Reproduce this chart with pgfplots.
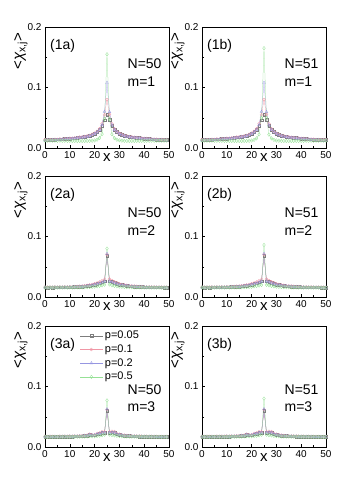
\documentclass[border=0pt]{standalone}
\usepackage{fontspec}
\setmainfont{Liberation Sans}
\usepackage{pgfplots}
\usepackage{pgfplotstable}
\pgfplotsset{compat=1.18}

\definecolor{c1}{RGB}{125,125,125}
\definecolor{c2}{RGB}{240,150,165}
\definecolor{c3}{RGB}{150,150,225}
\definecolor{c4}{RGB}{150,225,150}

\pgfplotstableread{
x k r b g gb
0 0.0134 0.0138 0.0128 0.0124 0.0124
1 0.0136 0.0135 0.0130 0.0122 0.0123
2 0.0135 0.0140 0.0129 0.0123 0.0122
3 0.0139 0.0138 0.0132 0.0121 0.0121
4 0.0140 0.0143 0.0133 0.0122 0.0122
5 0.0143 0.0141 0.0136 0.0120 0.0121
6 0.0145 0.0148 0.0139 0.0121 0.0120
7 0.0149 0.0147 0.0142 0.0119 0.0120
8 0.0151 0.0154 0.0145 0.0120 0.0119
9 0.0156 0.0153 0.0149 0.0118 0.0119
10 0.0158 0.0161 0.0152 0.0119 0.0118
11 0.0162 0.0160 0.0156 0.0117 0.0118
12 0.0166 0.0169 0.0160 0.0118 0.0117
13 0.0171 0.0168 0.0165 0.0116 0.0117
14 0.0176 0.0179 0.0170 0.0117 0.0116
15 0.0181 0.0183 0.0175 0.0116 0.0116
16 0.0188 0.0190 0.0181 0.0116 0.0115
17 0.0196 0.0199 0.0189 0.0117 0.0116
18 0.0206 0.0209 0.0198 0.0118 0.0117
19 0.0222 0.0226 0.0213 0.0120 0.0119
20 0.0240 0.0245 0.0232 0.0125 0.0123
21 0.0268 0.0276 0.0260 0.0138 0.0135
22 0.0305 0.0318 0.0298 0.0165 0.0160
23 0.0370 0.0400 0.0380 0.0230 0.0225
24 0.0460 0.0550 0.0600 0.0480 0.0500
25 0.0550 0.0800 0.1080 0.1550 0.1650
26 0.0465 0.0555 0.0595 0.0475 0.0495
27 0.0368 0.0398 0.0378 0.0228 0.0222
28 0.0303 0.0316 0.0300 0.0163 0.0160
29 0.0270 0.0274 0.0262 0.0137 0.0135
30 0.0241 0.0244 0.0234 0.0126 0.0124
31 0.0221 0.0227 0.0212 0.0121 0.0120
32 0.0207 0.0208 0.0199 0.0119 0.0118
33 0.0195 0.0198 0.0188 0.0117 0.0117
34 0.0189 0.0187 0.0182 0.0116 0.0116
35 0.0180 0.0184 0.0174 0.0117 0.0116
36 0.0177 0.0175 0.0171 0.0116 0.0117
37 0.0170 0.0173 0.0164 0.0118 0.0117
38 0.0167 0.0165 0.0161 0.0117 0.0118
39 0.0161 0.0164 0.0155 0.0119 0.0118
40 0.0159 0.0157 0.0153 0.0118 0.0119
41 0.0155 0.0158 0.0148 0.0120 0.0119
42 0.0152 0.0150 0.0146 0.0119 0.0120
43 0.0148 0.0151 0.0141 0.0121 0.0120
44 0.0146 0.0144 0.0140 0.0120 0.0121
45 0.0142 0.0145 0.0135 0.0122 0.0121
46 0.0141 0.0139 0.0134 0.0121 0.0122
47 0.0138 0.0141 0.0131 0.0123 0.0122
48 0.0137 0.0135 0.0130 0.0122 0.0123
49 0.0135 0.0138 0.0128 0.0124 0.0123
50 0.0134 0.0133 0.0129 0.0123 0.0124
}\tabA

\pgfplotstableread{
x k r b g gb
0 0.0160 0.0165 0.0157 0.0156 0.0157
1 0.0158 0.0162 0.0155 0.0154 0.0155
2 0.0161 0.0164 0.0158 0.0156 0.0156
3 0.0159 0.0161 0.0156 0.0155 0.0154
4 0.0162 0.0166 0.0159 0.0157 0.0156
5 0.0160 0.0163 0.0157 0.0155 0.0155
6 0.0163 0.0167 0.0160 0.0157 0.0157
7 0.0161 0.0164 0.0158 0.0156 0.0156
8 0.0164 0.0168 0.0161 0.0158 0.0157
9 0.0163 0.0166 0.0160 0.0156 0.0156
10 0.0166 0.0170 0.0163 0.0158 0.0158
11 0.0165 0.0169 0.0162 0.0157 0.0157
12 0.0168 0.0173 0.0165 0.0159 0.0158
13 0.0170 0.0174 0.0167 0.0158 0.0158
14 0.0173 0.0178 0.0170 0.0160 0.0159
15 0.0176 0.0181 0.0173 0.0160 0.0160
16 0.0180 0.0186 0.0177 0.0162 0.0161
17 0.0185 0.0192 0.0182 0.0163 0.0162
18 0.0191 0.0199 0.0188 0.0165 0.0164
19 0.0198 0.0207 0.0195 0.0168 0.0167
20 0.0207 0.0218 0.0204 0.0172 0.0170
21 0.0218 0.0231 0.0214 0.0177 0.0175
22 0.0232 0.0248 0.0227 0.0184 0.0182
23 0.0248 0.0268 0.0242 0.0193 0.0190
24 0.0262 0.0290 0.0255 0.0205 0.0200
25 0.0680 0.0700 0.0715 0.0800 0.0860
26 0.0265 0.0295 0.0258 0.0207 0.0202
27 0.0250 0.0272 0.0244 0.0194 0.0191
28 0.0234 0.0252 0.0229 0.0185 0.0183
29 0.0220 0.0234 0.0216 0.0178 0.0176
30 0.0209 0.0220 0.0205 0.0173 0.0171
31 0.0200 0.0209 0.0196 0.0169 0.0168
32 0.0193 0.0200 0.0189 0.0166 0.0165
33 0.0187 0.0193 0.0184 0.0164 0.0163
34 0.0182 0.0187 0.0179 0.0162 0.0162
35 0.0178 0.0183 0.0175 0.0161 0.0160
36 0.0175 0.0179 0.0172 0.0160 0.0160
37 0.0172 0.0176 0.0169 0.0159 0.0159
38 0.0169 0.0173 0.0166 0.0158 0.0158
39 0.0168 0.0171 0.0165 0.0158 0.0157
40 0.0166 0.0169 0.0163 0.0157 0.0157
41 0.0164 0.0167 0.0161 0.0157 0.0156
42 0.0163 0.0166 0.0160 0.0156 0.0156
43 0.0162 0.0164 0.0159 0.0156 0.0155
44 0.0161 0.0164 0.0158 0.0155 0.0155
45 0.0161 0.0163 0.0158 0.0155 0.0155
46 0.0160 0.0163 0.0157 0.0155 0.0154
47 0.0160 0.0162 0.0157 0.0154 0.0154
48 0.0159 0.0162 0.0156 0.0154 0.0154
49 0.0159 0.0161 0.0156 0.0154 0.0153
50 0.0159 0.0161 0.0156 0.0154 0.0153
}\tabB

\pgfplotstableread{
x k r b g gb
0 0.0172 0.0175 0.0170 0.0168 0.0168
1 0.0170 0.0173 0.0168 0.0167 0.0167
2 0.0173 0.0176 0.0171 0.0168 0.0168
3 0.0171 0.0174 0.0169 0.0167 0.0167
4 0.0172 0.0175 0.0170 0.0168 0.0168
5 0.0170 0.0172 0.0168 0.0167 0.0167
6 0.0173 0.0177 0.0171 0.0168 0.0168
7 0.0172 0.0175 0.0170 0.0168 0.0168
8 0.0174 0.0178 0.0172 0.0169 0.0168
9 0.0173 0.0176 0.0171 0.0168 0.0168
10 0.0176 0.0180 0.0174 0.0169 0.0169
11 0.0175 0.0178 0.0173 0.0169 0.0169
12 0.0178 0.0182 0.0176 0.0170 0.0170
13 0.0177 0.0180 0.0175 0.0170 0.0170
14 0.0180 0.0184 0.0178 0.0171 0.0171
15 0.0182 0.0186 0.0180 0.0172 0.0172
16 0.0186 0.0191 0.0184 0.0173 0.0173
17 0.0190 0.0196 0.0188 0.0175 0.0175
18 0.0205 0.0212 0.0202 0.0180 0.0179
19 0.0196 0.0201 0.0194 0.0177 0.0177
20 0.0198 0.0204 0.0196 0.0178 0.0178
21 0.0215 0.0224 0.0212 0.0183 0.0182
22 0.0222 0.0232 0.0219 0.0187 0.0186
23 0.0240 0.0252 0.0236 0.0195 0.0194
24 0.0238 0.0250 0.0234 0.0205 0.0203
25 0.0600 0.0620 0.0625 0.0770 0.0800
26 0.0240 0.0252 0.0236 0.0206 0.0204
27 0.0245 0.0260 0.0240 0.0197 0.0195
28 0.0242 0.0255 0.0238 0.0192 0.0191
29 0.0215 0.0224 0.0212 0.0185 0.0184
30 0.0205 0.0212 0.0202 0.0181 0.0180
31 0.0196 0.0201 0.0194 0.0178 0.0177
32 0.0190 0.0195 0.0188 0.0176 0.0175
33 0.0186 0.0190 0.0184 0.0174 0.0174
34 0.0183 0.0186 0.0181 0.0173 0.0173
35 0.0180 0.0184 0.0178 0.0172 0.0172
36 0.0179 0.0182 0.0177 0.0172 0.0171
37 0.0177 0.0180 0.0175 0.0171 0.0171
38 0.0176 0.0179 0.0174 0.0170 0.0170
39 0.0175 0.0178 0.0173 0.0170 0.0170
40 0.0174 0.0177 0.0172 0.0169 0.0169
41 0.0173 0.0176 0.0171 0.0169 0.0169
42 0.0173 0.0175 0.0171 0.0169 0.0168
43 0.0172 0.0175 0.0170 0.0168 0.0168
44 0.0172 0.0174 0.0170 0.0168 0.0168
45 0.0171 0.0174 0.0169 0.0168 0.0168
46 0.0171 0.0173 0.0169 0.0168 0.0167
47 0.0171 0.0173 0.0169 0.0167 0.0167
48 0.0170 0.0173 0.0168 0.0167 0.0167
49 0.0170 0.0172 0.0168 0.0167 0.0167
50 0.0170 0.0172 0.0168 0.0167 0.0167
}\tabC

\pgfplotsset{
  panel/.style={
    width=124pt, height=121pt, scale only axis,
    xmin=0, xmax=50, ymin=0, ymax=0.2,
    xtick={0,10,...,50}, ytick={0,0.1,0.2},
    minor x tick num=1, minor y tick num=1,
    tick align=inside, tick pos=left,
    major tick length=3pt, minor tick length=1.8pt,
    tick style={black, line width=0.4pt},
    axis line style={line width=0.5pt},
    ticklabel style={font=\fontsize{10}{10}\selectfont},
    /pgf/number format/assume math mode=true,
    yticklabel style={/pgf/number format/.cd, fixed, fixed zerofill, precision=1},
    xlabel={x},
    xlabel style={font=\fontsize{15}{15}\selectfont, at={(rel axis cs:0.5,0)}, anchor=base, yshift=-14pt},
    ylabel={<\textit{χ}\textsubscript{x,j}>},
    ylabel style={font=\fontsize{15}{15}\selectfont, at={(rel axis cs:-0.195,0.80)}, anchor=center},
    clip=true,
  },
  s1/.style={c1, line width=0.25pt, mark=square, mark size=1.3pt, mark options={solid, line width=0.3pt}},
  s2/.style={c2, line width=0.25pt, mark=o, mark size=1.5pt, mark options={solid, line width=0.3pt}},
  s3/.style={c3, line width=0.25pt, mark=triangle, mark size=1.7pt, mark options={solid, line width=0.3pt}},
  s4/.style={c4, line width=0.25pt, mark=diamond, mark size=1.8pt, mark options={solid, line width=0.3pt}},
}

\newcommand{\fourplots}[2]{%
  \addplot[s1] table[x=x, y=k]{#1};
  \addplot[s2] table[x=x, y=r]{#1};
  \addplot[s3] table[x=x, y=b]{#1};
  \addplot[s4] table[x=x, y=#2]{#1};
}
\newcommand{\plabel}[1]{\node[anchor=west, inner sep=0pt, font=\fontsize{14}{14}\selectfont] at (rel axis cs:0.04,0.84) {#1};}
\newcommand{\nmlabel}[4]{%
  \node[anchor=west, inner sep=0pt, font=\fontsize{14}{14}\selectfont] at (rel axis cs:0.665,#3) {#1};
  \node[anchor=west, inner sep=0pt, font=\fontsize{14}{14}\selectfont] at (rel axis cs:0.665,#4) {#2};
}

\begin{document}
\begin{tikzpicture}
\useasboundingbox (0,0) rectangle (353pt,485pt);

% row 1
\begin{axis}[panel, at={(45pt,337pt)}, anchor=south west, restrict x to domain=0:49]
  \fourplots{\tabA}{g}
  \plabel{(1a)}
  \nmlabel{N=50}{m=1}{0.70}{0.55}
\end{axis}
\begin{axis}[panel, at={(202pt,337pt)}, anchor=south west]
  \fourplots{\tabA}{gb}
  \plabel{(1b)}
  \nmlabel{N=51}{m=1}{0.70}{0.55}
\end{axis}

% row 2
\begin{axis}[panel, at={(45pt,188pt)}, anchor=south west, restrict x to domain=0:49]
  \fourplots{\tabB}{g}
  \plabel{(2a)}
  \nmlabel{N=50}{m=2}{0.70}{0.55}
\end{axis}
\begin{axis}[panel, at={(202pt,188pt)}, anchor=south west]
  \fourplots{\tabB}{gb}
  \plabel{(2b)}
  \nmlabel{N=51}{m=2}{0.70}{0.55}
\end{axis}

% row 3
\begin{axis}[panel, at={(45pt,38pt)}, anchor=south west, restrict x to domain=0:49,
  legend style={draw=none, fill=none, at={(rel axis cs:0.28,0.975)}, anchor=north west,
    font=\fontsize{11}{11}\selectfont, inner sep=0pt, row sep=0.5pt,
    legend cell align=left},
  legend image code/.code={\draw[mark repeat=2, mark phase=2] plot coordinates {(0cm,0cm) (0.4cm,0cm) (0.8cm,0cm)};}]
  \fourplots{\tabC}{g}
  \legend{p=0.05, p=0.1, p=0.2, p=0.5}
  \plabel{(3a)}
  \nmlabel{N=50}{m=3}{0.47}{0.33}
\end{axis}
\begin{axis}[panel, at={(202pt,38pt)}, anchor=south west]
  \fourplots{\tabC}{gb}
  \plabel{(3b)}
  \nmlabel{N=51}{m=3}{0.47}{0.33}
\end{axis}
\end{tikzpicture}
\end{document}
